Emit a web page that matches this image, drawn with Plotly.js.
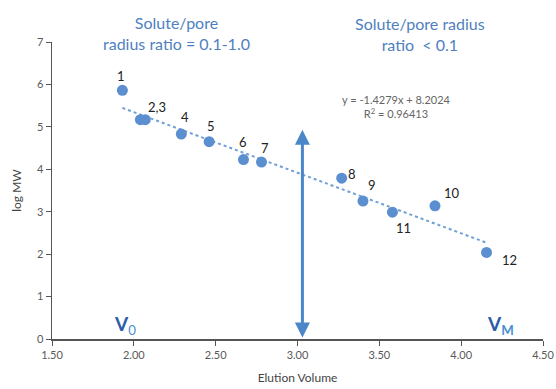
<!DOCTYPE html>
<html>
<head>
<meta charset="utf-8">
<script src="https://cdn.plot.ly/plotly-3.0.1.min.js"></script>
<style>html,body{margin:0;padding:0;background:#fff;}#chart{width:556px;height:389px;}</style>
</head>
<body>
<div id="chart"></div>
<script>
// Data
const labels = ["1", "2,3", "", "4", "5", "6", "7", "8", "9", "11", "10", "12"];
const elutionVolume = [1.93, 2.04, 2.07, 2.29, 2.46, 2.67, 2.78, 3.27, 3.40, 3.58, 3.84, 4.155];
const logMW = [5.86, 5.17, 5.17, 4.83, 4.65, 4.23, 4.17, 3.79, 3.25, 2.99, 3.14, 2.04];
// Trendline coefficients as printed on the chart
const slope = -1.4279;
const intercept = 8.2024;
const rSquared = "0.96413";
// Divider arrow
const dividerX = 3.03;
const dividerTop = 4.93;
// Label offsets (pixels)
const labelDx = [-1, 17, 0, 4, 2, 0, 4, 10, 9, 11, 17, 23];
const labelDy = [14, 13, 0, 17, 16, 18, 14, 4, 16, -16, 13, -8];

const xMin = Math.min(...elutionVolume), xMax = Math.max(...elutionVolume);
const trendX = [xMin, xMax];
const trendY = trendX.map(v => slope * v + intercept);

const FONT = "Lato, 'Open Sans', sans-serif";
const BLUE = "#5b8fd0";

const traces = [
  {x: trendX, y: trendY, mode: "lines", type: "scatter",
   line: {color: "#6f9fd6", width: 2, dash: "dot"}, hoverinfo: "skip"},
  {x: elutionVolume, y: logMW, mode: "markers", type: "scatter",
   marker: {color: BLUE, size: 11}}
];

const annotations = [];
labels.forEach((t, i) => {
  if (!t) return;
  annotations.push({x: elutionVolume[i], y: logMW[i], xref: "x", yref: "y", text: t,
    showarrow: false, xshift: labelDx[i], yshift: labelDy[i],
    xanchor: "center", yanchor: "middle",
    font: {family: FONT, size: 13, color: "#222"}});
});
annotations.push({x: dividerX, y: dividerTop, ax: dividerX, ay: 0, xref: "x", yref: "y",
  axref: "x", ayref: "y", text: "", showarrow: true, arrowhead: 2, arrowside: "end+start",
  arrowsize: 1, arrowwidth: 3, arrowcolor: "#4a86c8"});
function paperAnn(px, py, text, font, extra) {
  return Object.assign({xref: "paper", yref: "paper", x: (px - 52) / 491, y: (339 - py) / 297,
    xanchor: "center", yanchor: "middle", text: text, showarrow: false, font: font, align: "center"}, extra || {});
}
annotations.push(paperAnn(176, 33, "Solute/pore<br>radius ratio = 0.1-1.0",
  {family: FONT, size: 16, color: "#4f7fc0"}));
annotations.push(paperAnn(420, 34, "Solute/pore radius<br>ratio  < 0.1",
  {family: FONT, size: 16, color: "#4f7fc0"}));
annotations.push(paperAnn(396, 106, "y = " + slope + "x + " + intercept + "<br>R<sup>2</sup> = " + rSquared,
  {family: FONT, size: 11, color: "#666"}));
annotations.push(paperAnn(125, 325, "<b>V</b><sub><span style='color:#4a90d0'>0</span></sub>",
  {family: FONT, size: 19, color: "#2a5ca8"}));
annotations.push(paperAnn(500, 325, "<b>V</b><sub><b><span style='color:#4a90d0'>M</span></b></sub>",
  {family: FONT, size: 19, color: "#2a5ca8"}));

const layout = {
  width: 556, height: 389,
  margin: {l: 52, r: 13, t: 42, b: 50},
  paper_bgcolor: "#fff", plot_bgcolor: "#fff",
  showlegend: false,
  font: {family: FONT, color: "#595959", size: 11},
  xaxis: {range: [1.5, 4.5], dtick: 0.5, tick0: 1.5, tickformat: ".2f",
    showgrid: false, zeroline: false, showline: true, linecolor: "#555", linewidth: 1.5,
    ticks: "outside", ticklen: 5, tickcolor: "#555",
    tickfont: {family: FONT, size: 11, color: "#595959"},
    title: {text: "Elution Volume", font: {family: FONT, size: 12, color: "#444"}, standoff: 14}},
  yaxis: {range: [0, 7], dtick: 1, showgrid: false, zeroline: false, showline: true,
    linecolor: "#555", linewidth: 1.5, ticks: "outside", ticklen: 5, tickcolor: "#555",
    tickfont: {family: FONT, size: 11, color: "#595959"},
    title: {text: "log MW", font: {family: FONT, size: 12, color: "#444"}, standoff: 12}},
  annotations: annotations
};

Plotly.newPlot("chart", traces, layout, {staticPlot: true, displayModeBar: false});
</script>
</body>
</html>
